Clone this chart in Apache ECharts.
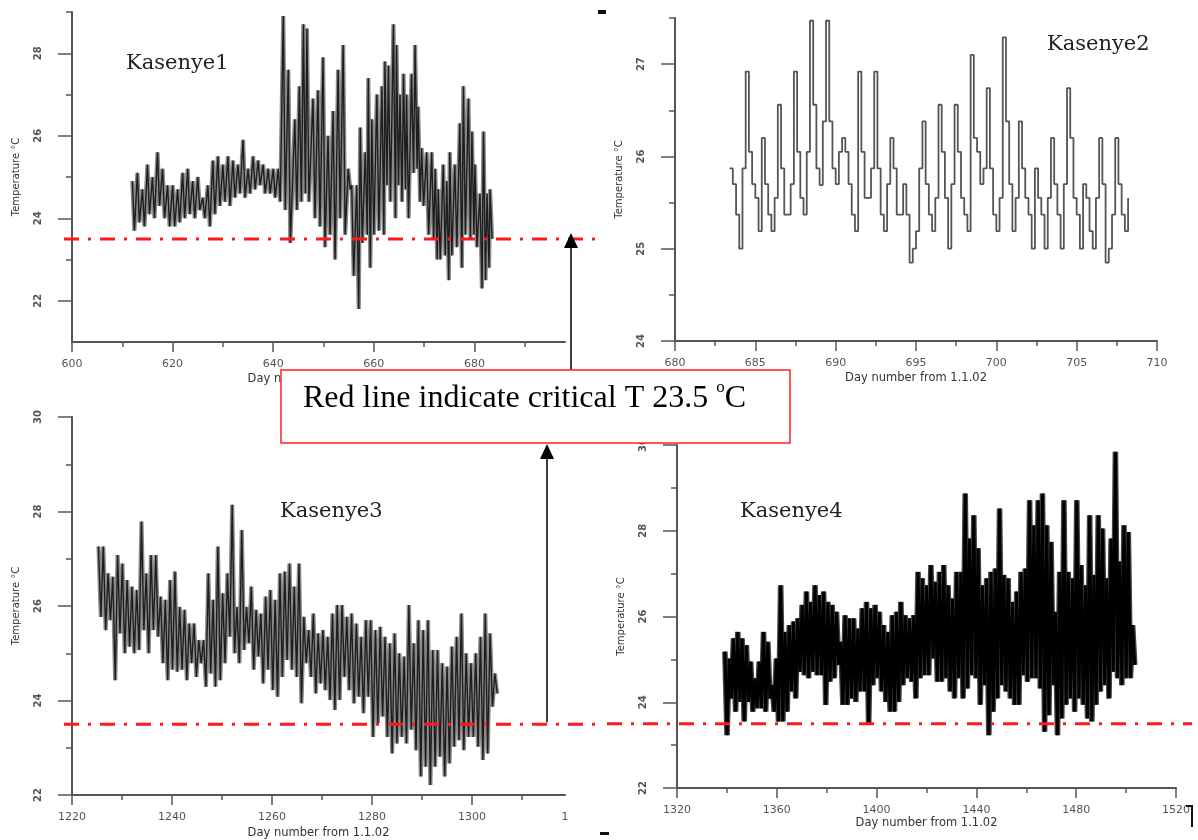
<!DOCTYPE html>
<html><head><meta charset="utf-8">
<script src="https://cdn.jsdelivr.net/npm/echarts@6/dist/echarts.min.js"></script>
<style>html,body{margin:0;padding:0;background:#fff}#c{width:1198px;height:840px}</style>
</head><body><div id="c"></div>
<script>
// ---------------- DATA ----------------
// Kasenye1: stroke days, daily highs and lows
const k1Day = [612,613,614,615,616,617,618,619,620,621,622,623,624,625,626,627,628,629,630,631,632,633,634,635,636,637,638,639,640,641,
  642.0,643.0,644.3,645.2,646.0,646.7,
  647.9,648.9,649.9,650.9,651.9,652.9,653.9,654.9,655.6,656.6,657.3,658.3,658.9,659.6,660.6,661.6,662.2,662.9,663.9,664.5,665.2,665.9,666.5,667.5,668.2,668.8,669.5,670.5,671.5,672.2,672.8,673.8,674.5,675.1,676.1,677.1,677.8,678.8,679.5,680.1,681.1,681.8,682.5,683.1];
const k1High = [24.9,25.1,24.7,25.3,25.0,25.6,25.2,24.8,24.8,24.7,25.1,25.2,24.9,25.0,24.5,24.8,25.4,25.5,25.3,25.5,25.4,25.3,25.9,25.2,25.5,25.4,25.3,25.2,25.2,25.2,
  28.9,27.6,26.4,27.2,28.7,28.6,
  26.9,27.1,27.9,26.0,26.6,27.6,28.2,25.2,24.8,24.8,26.2,25.6,27.4,26.4,27.0,27.2,27.8,27.7,28.7,28.2,27.0,27.5,27.0,27.5,28.2,26.7,25.7,25.6,25.6,25.2,24.7,25.3,24.9,25.6,25.3,26.3,27.2,26.9,26.1,25.3,24.6,26.1,24.6,24.7];
const k1Low = [23.7,23.9,23.8,24.1,24.0,24.3,24.0,23.8,23.8,23.9,24.0,24.1,24.0,24.2,24.0,23.8,24.1,24.3,24.4,24.3,24.5,24.6,24.5,24.6,24.7,24.8,24.6,24.6,24.5,24.4,
  24.2,23.4,24.2,24.4,24.6,24.4,
  24.0,23.8,23.3,23.6,23.0,24.0,23.6,24.7,22.6,21.8,23.4,23.6,22.8,23.6,23.7,23.6,24.8,24.4,24.0,24.8,24.4,24.7,24.0,25.1,25.2,24.4,24.3,23.6,23.5,23.0,23.0,23.1,22.5,23.1,23.3,22.8,23.6,23.5,23.6,23.3,22.3,22.5,22.8,23.5];

// Kasenye2: temperature every 0.2 day from day 683.4
const k2Start = 683.4, k2Step = 0.2;
const k2Temp = [25.87,25.7,25.37,
  25.0,25.87,26.92,26.05,25.7,
  25.55,25.19,26.2,25.7,25.37,
  25.19,25.55,26.56,25.87,25.37,
  25.37,25.7,26.92,26.05,25.55,
  25.37,26.05,27.47,26.56,25.87,
  25.69,26.38,27.47,26.38,25.87,
  25.7,26.05,26.2,26.05,25.7,
  25.37,25.19,26.92,26.05,25.55,
  25.55,25.87,26.92,25.87,25.37,
  25.19,25.7,26.2,25.87,25.37,
  25.37,25.7,25.37,24.85,25.0,
  25.19,25.87,26.38,25.7,25.37,
  25.19,25.55,26.56,26.05,25.55,
  25.0,25.7,26.56,26.05,25.55,
  25.37,25.19,27.1,26.2,26.05,
  25.7,25.87,26.74,25.87,25.37,
  25.19,25.55,27.29,26.38,25.7,
  25.19,25.55,26.38,25.87,25.55,
  25.37,25.0,25.87,25.55,25.37,
  25.0,25.55,26.2,25.7,25.37,
  25.0,25.7,26.74,26.2,25.55,
  25.37,25.0,25.7,25.55,25.19,
  25.0,25.55,26.2,25.7,24.85,
  25.0,25.37,26.2,25.7,25.37,
  25.19,25.55];

// Kasenye3: daily highs / lows from day 1225.3, one stroke every 0.955 day
const k3Start = 1225.3, k3Step = 0.955;
const k3High = [27.26,27.26,26.69,26.62,27.08,26.90,26.55,26.41,26.34,27.79,
  26.69,27.08,27.08,26.20,26.13,26.55,26.73,25.98,25.92,25.63,
  25.63,25.28,25.28,26.69,26.13,27.26,26.27,26.69,28.14,25.98,
  27.61,25.98,26.41,25.92,25.84,26.20,26.34,26.13,26.69,26.73,
  26.90,26.41,26.90,25.77,25.49,25.84,25.42,25.49,25.35,25.84,
  26.02,26.02,25.77,25.84,25.63,25.35,25.70,25.70,25.49,25.56,
  25.35,25.21,25.42,25.00,24.93,26.02,25.21,25.70,25.49,25.70,
  25.07,25.07,24.79,24.72,25.14,25.35,25.84,25.00,24.79,25.00,
  25.35,25.84,25.42,24.57];
const k3Low = [25.77,25.49,25.70,24.43,25.42,25.00,25.14,25.00,25.07,25.49,
  25.00,25.49,25.35,24.79,24.43,24.65,24.61,24.65,24.43,24.79,
  24.50,24.79,24.29,24.57,24.29,24.43,24.79,25.35,25.00,24.79,
  25.07,25.21,24.65,24.93,24.36,24.65,24.22,24.08,24.50,24.86,
  24.65,24.50,23.94,24.79,24.50,24.15,24.36,24.22,24.01,23.80,
  24.01,24.50,24.22,23.94,24.08,23.73,24.08,23.23,23.52,23.66,
  23.23,22.88,23.09,23.23,23.09,23.38,22.95,22.39,22.60,22.21,
  22.60,22.81,22.39,22.67,23.02,23.16,22.95,23.23,23.23,23.02,
  22.74,22.88,23.87,24.15];

// Kasenye4: highs / lows from day 1339.2, one stroke every 1.72 day
const k4Start = 1339.2, k4Step = 1.72;
const k4High = [25.18,25.02,25.49,25.64,25.49,25.33,24.95,24.56,24.95,25.64,
  25.41,24.40,25.02,26.73,25.64,25.80,25.88,25.96,26.27,26.58,
  26.34,26.73,26.50,26.58,26.34,26.27,26.11,25.41,26.03,25.96,
  25.96,25.72,26.19,26.34,26.19,26.27,26.11,25.80,25.64,26.03,
  26.11,26.34,26.03,25.96,26.03,27.04,26.89,26.73,27.20,26.81,
  27.04,27.20,26.73,26.42,27.04,27.04,28.87,27.82,28.36,27.59,
  26.73,26.89,27.04,27.12,28.52,26.97,26.89,26.34,26.58,27.04,
  27.12,28.71,28.13,28.71,28.87,28.13,27.74,26.11,27.04,28.71,
  27.04,26.89,28.71,27.20,26.73,28.36,26.97,28.36,28.05,26.89,
  27.82,29.84,27.28,28.13,27.97,25.80];
const k4Low = [23.23,24.09,23.78,24.01,23.55,24.01,23.78,23.86,23.86,23.78,
  24.09,23.78,23.55,23.55,23.78,24.25,24.09,24.71,24.63,24.56,
  24.71,24.63,24.63,23.94,24.48,24.56,24.87,23.94,23.94,24.09,
  24.01,24.25,24.25,23.47,24.40,24.56,24.25,24.01,23.78,23.78,
  24.01,24.40,24.56,24.48,24.09,24.56,24.63,24.63,25.02,24.48,
  24.48,24.56,24.25,24.09,24.56,24.09,24.32,24.63,24.56,23.94,
  24.40,23.23,23.78,24.09,24.40,24.25,24.09,23.94,23.94,24.63,
  24.48,24.56,24.56,24.32,23.31,23.70,24.40,23.23,23.62,23.94,
  24.09,23.78,24.09,23.94,23.62,23.55,23.94,24.25,24.40,24.09,
  24.71,24.56,24.40,24.56,24.56,24.87];

const criticalT = 23.5;
const titles = ['Kasenye1','Kasenye2','Kasenye3','Kasenye4'];

// tick / label values
const k1XLabels = [600,620,640,660,680], k1XMinor = [610,630,650,670,690];
const k1YLabels = [22,24,26,28], k1YMinor = [23,25,27,29];
const k2XLabels = [680,685,690,695,700,705,710], k2XMinor = [682.5,687.5,692.5,697.5,702.5,707.5];
const k2YLabels = [24,25,26,27], k2YMinor = [24.5,25.5,26.5,27.5];
const k3XLabels = [1220,1240,1260,1280,1300], k3XMinor = [1230,1250,1270,1290,1310];
const k3YLabels = [22,24,26,28,30], k3YMinor = [23,25,27,29];
const k4XLabels = [1320,1360,1400,1440,1480,1520], k4XMinor = [1340,1380,1420,1460,1500];
const k4YLabels = [22,24,26,28,30], k4YMinor = [23,25,27,29];

// ---------------- CHART ----------------
const chart = echarts.init(document.getElementById('c'), null, {renderer: 'canvas'});
const AX = '#555';
const grids = [
  {left: 72, top: 12, width: 493, height: 330},
  {left: 675, top: 18, width: 482, height: 323},
  {left: 72, top: 417, width: 493, height: 378},
  {left: 677, top: 445, width: 499, height: 343}
];
const panels = [
  {xr: [600, 698], yr: [21, 29], xl: k1XLabels, xt: k1XLabels, xm: k1XMinor, yl: k1YLabels, ym: k1YMinor, xg: 31},
  {xr: [680, 710], yr: [24, 27.5], xl: k2XLabels, xt: k2XLabels, xm: k2XMinor, yl: k2YLabels, ym: k2YMinor, xg: 31},
  {xr: [1220, 1318.6], yr: [22, 30], xl: k3XLabels.concat([1318.6]), xt: k3XLabels, xm: k3XMinor, yl: k3YLabels, ym: k3YMinor, xg: 32},
  {xr: [1320, 1520], yr: [22, 30], xl: k4XLabels, xt: k4XLabels, xm: k4XMinor, yl: k4YLabels, ym: k4YMinor, xg: 27}
];

const xAxes = [], yAxes = [];
panels.forEach((p, i) => {
  xAxes.push({
    type: 'value', gridIndex: i, position: 'bottom', min: p.xr[0], max: p.xr[1],
    axisLine: {show: true, onZero: false, lineStyle: {color: AX, width: 2}},
    axisTick: {show: true, customValues: p.xt, length: 10, lineStyle: {color: AX, width: 1.5}},
    axisLabel: {show: true, customValues: p.xl, margin: 17, fontSize: 11, color: '#555', fontFamily: 'DejaVu Sans',
      formatter: v => (i === 2 && v > 1310) ? '1' : String(v)},
    splitLine: {show: false},
    name: 'Day number from 1.1.02', nameLocation: 'middle', nameGap: p.xg,
    nameTextStyle: {fontSize: 11.5, color: '#333', fontFamily: 'DejaVu Sans'}
  });
  yAxes.push({
    type: 'value', gridIndex: i, position: 'left', min: p.yr[0], max: p.yr[1],
    axisLine: {show: true, onZero: false, lineStyle: {color: AX, width: 2}},
    axisTick: {show: true, customValues: p.yl, length: 14, lineStyle: {color: AX, width: 1.5}},
    axisLabel: {show: true, customValues: p.yl, rotate: 90, margin: 29, fontSize: 10, fontWeight: 'bold', color: '#555', fontFamily: 'DejaVu Sans'},
    splitLine: {show: false},
    name: 'Temperature \u00B0C', nameLocation: 'middle', nameGap: 51, nameRotate: 90,
    nameTextStyle: {fontSize: 10, color: '#333', fontFamily: 'DejaVu Sans'}
  });
});
panels.forEach((p, i) => {
  xAxes.push({
    type: 'value', gridIndex: i, position: 'bottom', min: p.xr[0], max: p.xr[1],
    axisLine: {show: false}, axisLabel: {show: false}, splitLine: {show: false},
    axisTick: {show: true, customValues: p.xm, length: 5, lineStyle: {color: AX, width: 1.5}}
  });
  yAxes.push({
    type: 'value', gridIndex: i, position: 'left', min: p.yr[0], max: p.yr[1],
    axisLine: {show: false}, axisLabel: {show: false}, splitLine: {show: false},
    axisTick: {show: true, customValues: p.ym, length: 6, lineStyle: {color: AX, width: 1.5}}
  });
});

const d1 = k1Day.flatMap((d, i) => [[d, k1High[i]], [d + 0.4, k1Low[i]]]);
const d2 = k2Temp.map((t, i) => [k2Start + i * k2Step, t]);
const d3 = k3High.flatMap((h, i) => { const d = k3Start + i * k3Step; return [[d, h], [d + k3Step / 2, k3Low[i]]]; });
const d4 = k4High.flatMap((h, i) => { const d = k4Start + i * k4Step; return [[d, h], [d + k4Step / 2, k4Low[i]]]; });

const mk = (i, data, color, width, step, z) => ({
  type: 'line', xAxisIndex: i, yAxisIndex: i, data: data, symbol: 'none', silent: true,
  step: step || false, lineStyle: {color: color, width: width, join: 'bevel'}, z: z || 3
});

chart.setOption({
  animation: false,
  backgroundColor: '#fff',
  grid: grids.map(g => Object.assign({containLabel: false, outerBoundsMode: 'none'}, g)),
  xAxis: xAxes,
  yAxis: yAxes,
  series: [
    mk(0, d1, '#8a8a8a', 4.2, false, 2),
    mk(0, d1, '#1e1e1e', 1.4, false, 3),
    mk(1, d2, '#555', 1.8, 'end'),
    mk(2, d3, '#8a8a8a', 4.2, false, 2),
    mk(2, d3, '#1e1e1e', 1.4, false, 3),
    mk(3, d4, '#444', 5.6, false, 2),
    mk(3, d4, '#000', 3.0, false, 3)
  ]
});

// annotation layer, positioned through the axes' scales
const yTop = chart.convertToPixel({yAxisIndex: 0}, criticalT);
const yB3 = chart.convertToPixel({yAxisIndex: 2}, criticalT);
const yB4 = chart.convertToPixel({yAxisIndex: 3}, criticalT);
const red = {stroke: '#ff1a1a', lineWidth: 3, lineDash: [15, 9, 3, 9]};
const titleStyle = (t, x, yb) => ({type: 'text', x: x, y: yb - 6.5, z: 50,
  style: {text: t, font: '21px "DejaVu Serif"', fill: '#222', verticalAlign: 'middle', align: 'left'}});

chart.setOption({
  graphic: [
    {type: 'line', z: 40, shape: {x1: 64, y1: yTop, x2: 597, y2: yTop}, style: red},
    {type: 'line', z: 40, shape: {x1: 64, y1: yB3, x2: 601, y2: yB3}, style: red},
    {type: 'line', z: 40, shape: {x1: 607, y1: yB4, x2: 1192, y2: yB4}, style: red},
    titleStyle(titles[0], 126, 70),
    titleStyle(titles[1], 1047, 51),
    titleStyle(titles[2], 280, 518),
    titleStyle(titles[3], 740, 518),
    // arrows
    {type: 'line', z: 60, shape: {x1: 571, y1: 371, x2: 571, y2: yTop - 6 + 14}, style: {stroke: '#000', lineWidth: 1.5}},
    {type: 'polygon', z: 60, shape: {points: [[571, yTop - 6], [564, yTop + 9], [578, yTop + 9]]}, style: {fill: '#000'}},
    {type: 'line', z: 60, shape: {x1: 547, y1: yB3 - 2, x2: 547, y2: 458}, style: {stroke: '#000', lineWidth: 1.5}},
    {type: 'polygon', z: 60, shape: {points: [[547, 444], [540, 459], [554, 459]]}, style: {fill: '#000'}},
    // text box
    {type: 'rect', z: 100, shape: {x: 281, y: 370, width: 509, height: 73}, style: {fill: '#fff', stroke: '#ff2020', lineWidth: 1.5}},
    {type: 'text', z: 101, x: 303, y: 399, style: {
      text: '{a|Red line indicate critical T 23.5 }{s|o}{a|C}',
      verticalAlign: 'middle', align: 'left',
      rich: {
        a: {fontSize: 32, fontFamily: 'Liberation Serif', color: '#000', lineHeight: 40},
        s: {fontSize: 17, fontFamily: 'Liberation Serif', color: '#000', verticalAlign: 'top', lineHeight: 22}
      }
    }},
    // small scan marks
    {type: 'rect', z: 20, shape: {x: 598, y: 10, width: 8, height: 4}, style: {fill: '#111'}},
    {type: 'rect', z: 20, shape: {x: 600, y: 832, width: 9, height: 3}, style: {fill: '#111'}},
    {type: 'polyline', z: 20, shape: {points: [[1186, 806], [1192, 806], [1192, 827]]}, style: {stroke: '#111', lineWidth: 2}}
  ]
});
</script></body></html>
